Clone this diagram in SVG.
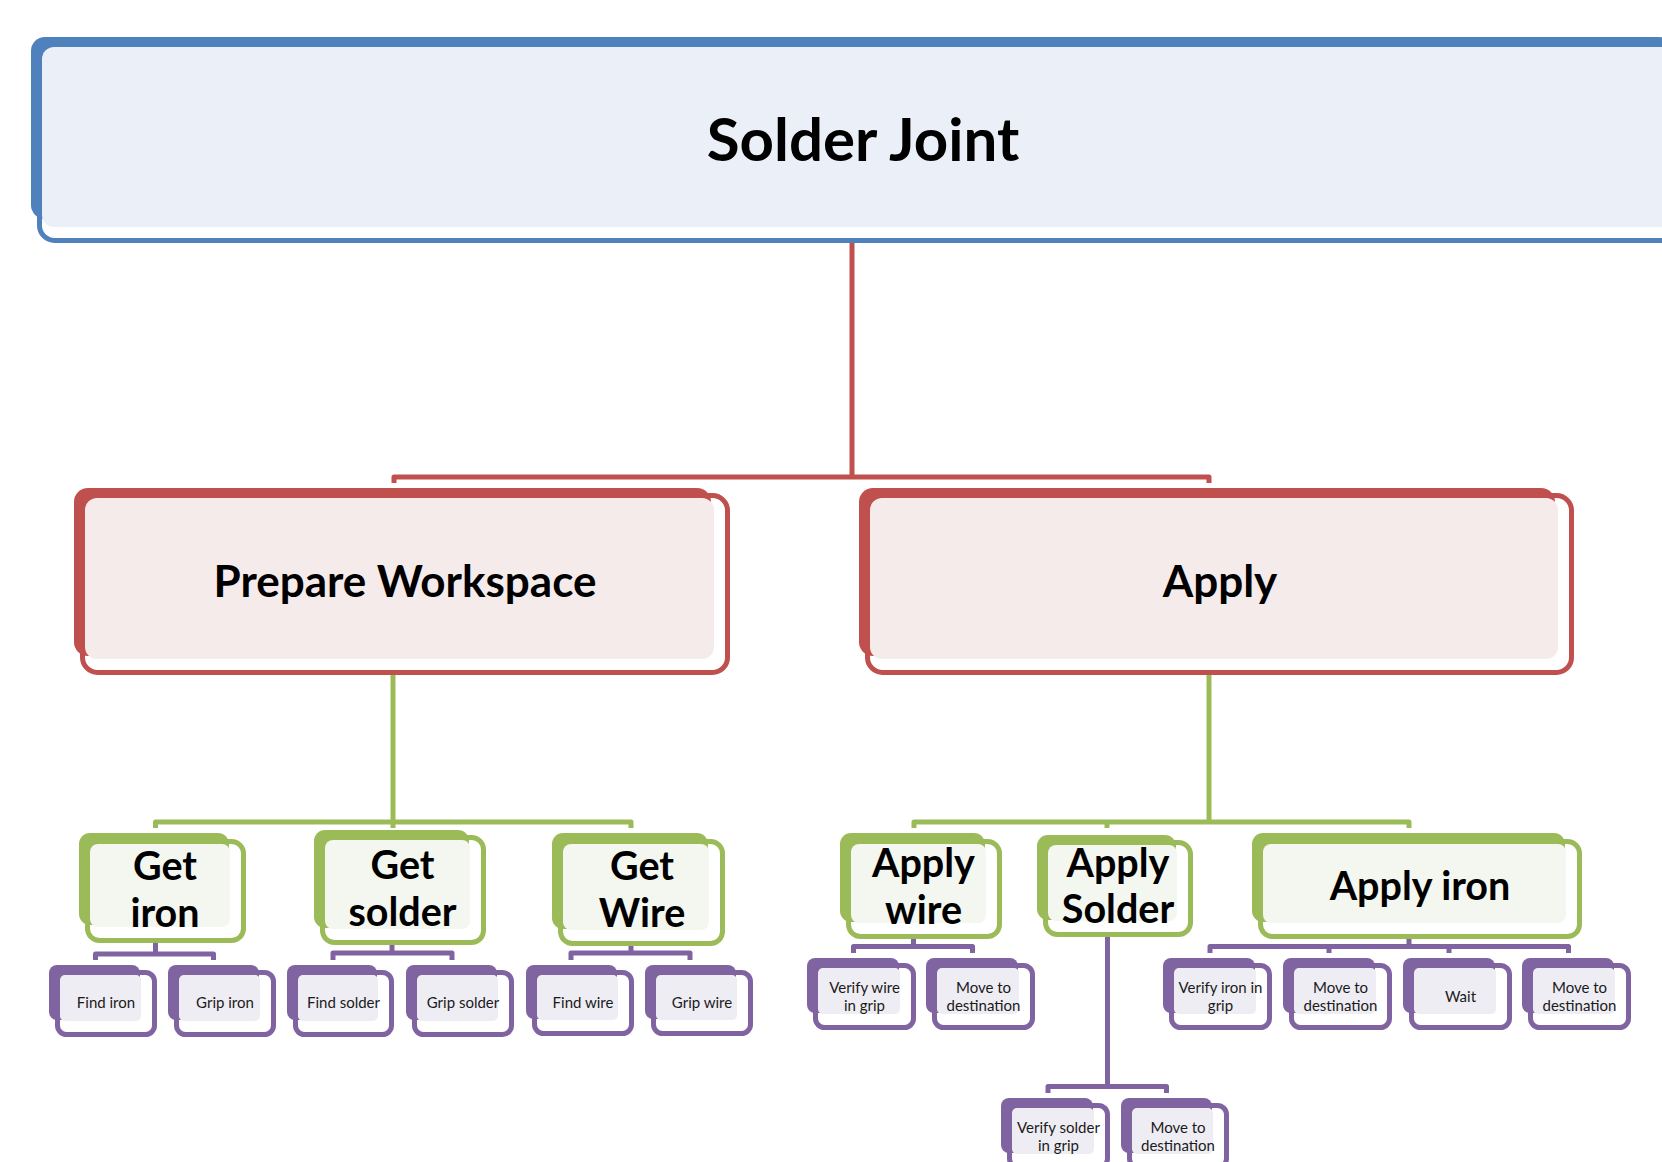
<svg xmlns="http://www.w3.org/2000/svg" width="1662" height="1162" viewBox="0 0 1662 1162">
  <style>
    .bk { stroke: none; }
    .ol { fill: none; stroke-width: 5; }
    .blue .bk { fill: #4F81BD; } .blue .ol { stroke: #4F81BD; } .blue .lt { fill: #EBF0F8; }
    .red .bk { fill: #C0504D; } .red .ol { stroke: #C0504D; } .red .lt { fill: #F6EBEB; }
    .green .bk { fill: #9BBB59; } .green .ol { stroke: #9BBB59; } .green .lt { fill: #F4F7EF; }
    .purple .bk { fill: #8064A2; } .purple .ol { stroke: #8064A2; } .purple .lt { fill: #EFEDF4; }
    .conn path { fill: none; stroke-width: 5; stroke-linejoin: round; }
    .c-red { stroke: #C0504D; } .c-green { stroke: #9BBB59; } .c-purple { stroke: #8064A2; }
    text { font-family: Lato, "Liberation Sans", sans-serif; text-anchor: middle; fill: #000; }
    .t1 { font-size: 60px; font-weight: bold; }
    .t2 { font-size: 44px; font-weight: bold; }
    .t3 { font-size: 39.5px; font-weight: bold; }
    .t4 { font-size: 15px; fill: #1a1a1a; }
  </style>

  <!-- connectors -->
  <g id="connectors" class="conn">
    <path class="c-red" d="M852 241 V477 M394 483 V477 H1209 V483"/>
    <path class="c-green" d="M393 673 V828 M155.5 828 V822 H631 V828"/>
    <path class="c-green" d="M1209 673 V822 M914 828 V822 H1409 V828 M1107 822 V828"/>
    <path class="c-purple" d="M155.5 941 V954 M95.5 960 V954 H213.5 V960"/>
    <path class="c-purple" d="M392 943 V953 M333 960 V953 H452 V960"/>
    <path class="c-purple" d="M631 944 V953 M571 960 V953 H690 V960"/>
    <path class="c-purple" d="M913.5 937 V946.5 M853.5 953 V946.5 H972.5 V953"/>
    <path class="c-purple" d="M1409 937 V946.5 M1210 953 V946.5 H1568.5 V953 M1329 946.5 V953 M1449 946.5 V953"/>
    <path class="c-purple" d="M1107.5 935 V1086.5 M1048 1093 V1086.5 H1166.5 V1093"/>
  </g>

  <!-- level 1 -->
  <g id="solder-joint" class="blue">
    <rect class="bk" x="31" y="37" width="1642" height="182" rx="14"/>
    <rect class="ol" x="39.5" y="44.5" width="1650" height="196" rx="15"/>
    <rect class="lt" x="42" y="47" width="1634" height="180" rx="12"/>
    <text class="t1" x="863" y="161">Solder Joint</text>
  </g>

  <!-- level 2 -->
  <g id="prepare-workspace" class="red">
    <rect class="bk" x="74" y="488" width="637" height="168" rx="14"/>
    <rect class="ol" x="82.5" y="495.5" width="645" height="177" rx="15"/>
    <rect class="lt" x="85" y="498" width="629" height="161" rx="12"/>
    <text class="t2" x="405" y="597">Prepare Workspace</text>
  </g>
  <g id="apply" class="red">
    <rect class="bk" x="859" y="488" width="696" height="168" rx="14"/>
    <rect class="ol" x="867.5" y="495.5" width="704" height="177" rx="15"/>
    <rect class="lt" x="870" y="498" width="688" height="161" rx="12"/>
    <text class="t2" x="1220" y="597">Apply</text>
  </g>

  <!-- level 3 -->
  <g id="get-iron" class="green">
    <rect class="bk" x="79" y="833" width="150" height="92" rx="11"/>
    <rect class="ol" x="87.5" y="841.5" width="156" height="99" rx="12"/>
    <rect class="lt" x="90" y="844" width="140" height="83" rx="8"/>
    <text class="t3" x="165" y="880">Get<tspan x="165" y="926.7">iron</tspan></text>
  </g>
  <g id="get-solder" class="green">
    <rect class="bk" x="314" y="830" width="155" height="98" rx="11"/>
    <rect class="ol" x="322.5" y="837.5" width="161" height="105" rx="12"/>
    <rect class="lt" x="325" y="840" width="145" height="89" rx="8"/>
    <text class="t3" x="402.5" y="879.3">Get<tspan x="402.5" y="926">solder</tspan></text>
  </g>
  <g id="get-wire" class="green">
    <rect class="bk" x="552" y="833" width="156" height="96" rx="11"/>
    <rect class="ol" x="560.5" y="841.5" width="162" height="102" rx="12"/>
    <rect class="lt" x="563" y="844" width="146" height="86" rx="8"/>
    <text class="t3" x="642" y="880">Get<tspan x="642" y="927.3">Wire</tspan></text>
  </g>
  <g id="apply-wire" class="green">
    <rect class="bk" x="840" y="833" width="145" height="89" rx="11"/>
    <rect class="ol" x="848.5" y="841.5" width="151" height="95" rx="12"/>
    <rect class="lt" x="851" y="844" width="135" height="79" rx="8"/>
    <text class="t3" x="923.5" y="877.3">Apply<tspan x="923.5" y="924">wire</tspan></text>
  </g>
  <g id="apply-solder" class="green">
    <rect class="bk" x="1037" y="835" width="139" height="85" rx="11"/>
    <rect class="ol" x="1045.5" y="842.5" width="145" height="92" rx="12"/>
    <rect class="lt" x="1048" y="845" width="129" height="76" rx="8"/>
    <text class="t3" x="1118" y="877">Apply<tspan x="1118" y="923.3">Solder</tspan></text>
  </g>
  <g id="apply-iron" class="green">
    <rect class="bk" x="1252" y="833" width="313" height="89" rx="11"/>
    <rect class="ol" x="1260.5" y="841.5" width="319" height="95" rx="12"/>
    <rect class="lt" x="1263" y="844" width="303" height="79" rx="8"/>
    <text class="t3" x="1420" y="900">Apply iron</text>
  </g>

  <!-- level 4 -->
  <g id="find-iron" class="purple">
    <rect class="bk" x="49" y="965" width="91" height="55" rx="8"/>
    <rect class="ol" x="57.5" y="972.5" width="97" height="62" rx="9"/>
    <rect class="lt" x="60" y="975" width="81" height="46" rx="5"/>
    <text class="t4" x="106" y="1008.3">Find iron</text>
  </g>
  <g id="grip-iron" class="purple">
    <rect class="bk" x="168" y="965" width="91" height="55" rx="8"/>
    <rect class="ol" x="176.5" y="972.5" width="97" height="62" rx="9"/>
    <rect class="lt" x="179" y="975" width="81" height="46" rx="5"/>
    <text class="t4" x="225" y="1008.3">Grip iron</text>
  </g>
  <g id="find-solder" class="purple">
    <rect class="bk" x="287" y="965" width="90" height="55" rx="8"/>
    <rect class="ol" x="295.5" y="972.5" width="96" height="62" rx="9"/>
    <rect class="lt" x="298" y="975" width="80" height="46" rx="5"/>
    <text class="t4" x="343.5" y="1008.3">Find solder</text>
  </g>
  <g id="grip-solder" class="purple">
    <rect class="bk" x="406" y="965" width="91" height="55" rx="8"/>
    <rect class="ol" x="414.5" y="972.5" width="97" height="62" rx="9"/>
    <rect class="lt" x="417" y="975" width="81" height="46" rx="5"/>
    <text class="t4" x="463" y="1008.3">Grip solder</text>
  </g>
  <g id="find-wire" class="purple">
    <rect class="bk" x="526" y="965" width="91" height="54" rx="8"/>
    <rect class="ol" x="534.5" y="972.5" width="97" height="61" rx="9"/>
    <rect class="lt" x="537" y="975" width="81" height="45" rx="5"/>
    <text class="t4" x="583" y="1008.3">Find wire</text>
  </g>
  <g id="grip-wire" class="purple">
    <rect class="bk" x="645" y="965" width="91" height="54" rx="8"/>
    <rect class="ol" x="653.5" y="972.5" width="97" height="61" rx="9"/>
    <rect class="lt" x="656" y="975" width="81" height="45" rx="5"/>
    <text class="t4" x="702" y="1008.3">Grip wire</text>
  </g>
  <g id="verify-wire" class="purple">
    <rect class="bk" x="807" y="958" width="92" height="55" rx="8"/>
    <rect class="ol" x="815.5" y="965.5" width="98" height="62" rx="9"/>
    <rect class="lt" x="818" y="968" width="82" height="46" rx="5"/>
    <text class="t4" x="864.5" y="993.3">Verify wire<tspan x="864.5" y="1010.5">in grip</tspan></text>
  </g>
  <g id="move-wire" class="purple">
    <rect class="bk" x="926" y="958" width="92" height="55" rx="8"/>
    <rect class="ol" x="934.5" y="965.5" width="98" height="62" rx="9"/>
    <rect class="lt" x="937" y="968" width="82" height="46" rx="5"/>
    <text class="t4" x="983.5" y="993.3">Move to<tspan x="983.5" y="1010.5">destination</tspan></text>
  </g>
  <g id="verify-iron" class="purple">
    <rect class="bk" x="1163" y="958" width="92" height="55" rx="8"/>
    <rect class="ol" x="1171.5" y="965.5" width="98" height="62" rx="9"/>
    <rect class="lt" x="1174" y="968" width="82" height="46" rx="5"/>
    <text class="t4" x="1220.5" y="993.3">Verify iron in<tspan x="1220.5" y="1010.5">grip</tspan></text>
  </g>
  <g id="move-iron-1" class="purple">
    <rect class="bk" x="1283" y="958" width="92" height="55" rx="8"/>
    <rect class="ol" x="1291.5" y="965.5" width="98" height="62" rx="9"/>
    <rect class="lt" x="1294" y="968" width="82" height="46" rx="5"/>
    <text class="t4" x="1340.5" y="993.3">Move to<tspan x="1340.5" y="1010.5">destination</tspan></text>
  </g>
  <g id="wait" class="purple">
    <rect class="bk" x="1403" y="958" width="92" height="55" rx="8"/>
    <rect class="ol" x="1411.5" y="965.5" width="98" height="62" rx="9"/>
    <rect class="lt" x="1414" y="968" width="82" height="46" rx="5"/>
    <text class="t4" x="1460.5" y="1001.7">Wait</text>
  </g>
  <g id="move-iron-2" class="purple">
    <rect class="bk" x="1522" y="958" width="92" height="55" rx="8"/>
    <rect class="ol" x="1530.5" y="965.5" width="98" height="62" rx="9"/>
    <rect class="lt" x="1533" y="968" width="82" height="46" rx="5"/>
    <text class="t4" x="1579.5" y="993.3">Move to<tspan x="1579.5" y="1010.5">destination</tspan></text>
  </g>
  <g id="verify-solder" class="purple">
    <rect class="bk" x="1001" y="1098" width="92" height="55" rx="8"/>
    <rect class="ol" x="1009.5" y="1105.5" width="98" height="62" rx="9"/>
    <rect class="lt" x="1012" y="1108" width="82" height="46" rx="5"/>
    <text class="t4" x="1058.5" y="1133.3">Verify solder<tspan x="1058.5" y="1150.5">in grip</tspan></text>
  </g>
  <g id="move-solder" class="purple">
    <rect class="bk" x="1121" y="1098" width="91" height="55" rx="8"/>
    <rect class="ol" x="1129.5" y="1105.5" width="97" height="62" rx="9"/>
    <rect class="lt" x="1132" y="1108" width="81" height="46" rx="5"/>
    <text class="t4" x="1178" y="1133.3">Move to<tspan x="1178" y="1150.5">destination</tspan></text>
  </g>
</svg>
